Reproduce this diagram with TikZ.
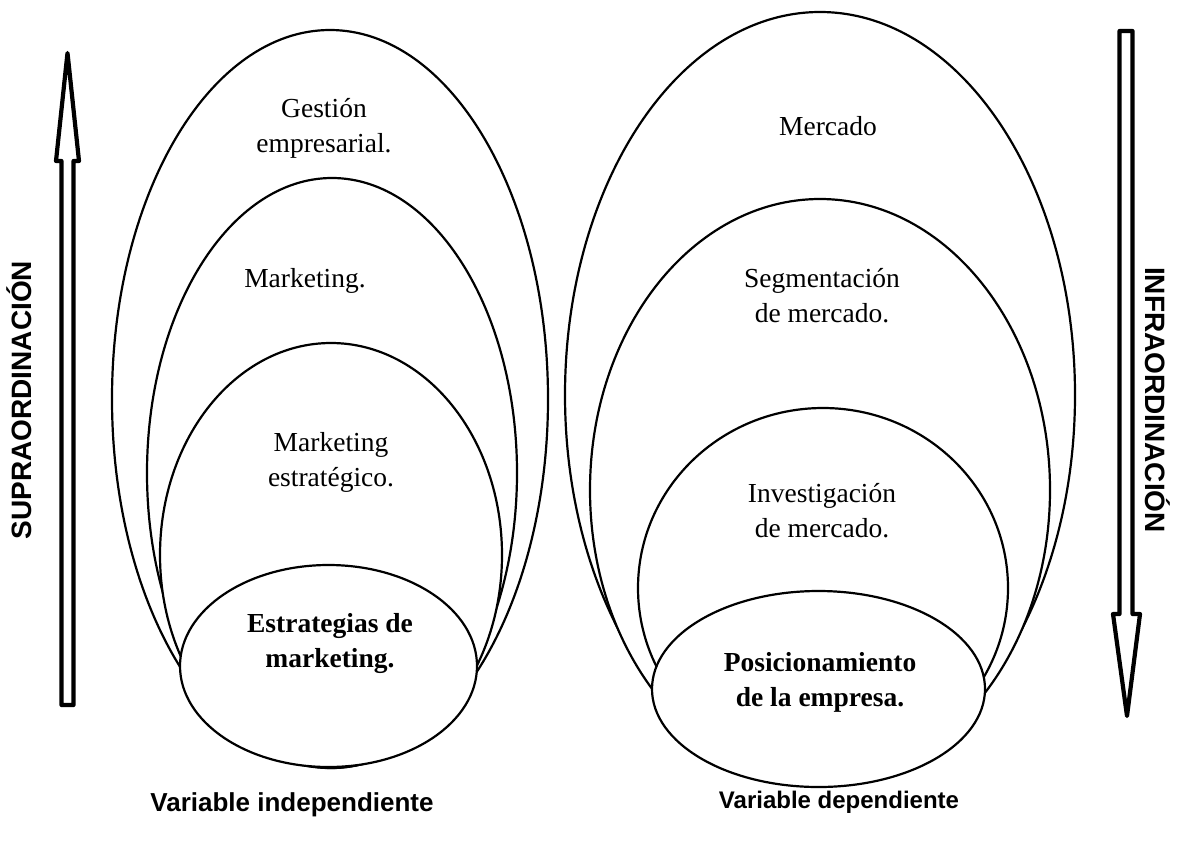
\documentclass[tikz,border=0pt]{standalone}
\usepackage{fontspec}
\setmainfont{Liberation Serif}
\newfontfamily\labelfont{Liberation Sans}
\begin{document}
\begin{tikzpicture}[x=1pt,y=-1pt,
  ring/.style={draw=black,fill=white,line width=2.2pt},
  hollowarrow/.style={draw=black,fill=white,line width=4.2pt,line join=round},
  concept/.style={align=center,inner sep=0pt,font=\fontsize{27.5}{35}\selectfont},
  keyconcept/.style={concept,font=\fontsize{27.5}{35}\selectfont\bfseries},
  caption/.style={inner sep=0pt,font=\labelfont\bfseries\fontsize{24.5}{28}\selectfont},
  sidelabel/.style={inner sep=0pt,font=\labelfont\bfseries\fontsize{28}{30}\selectfont}]
\useasboundingbox (0,0) rectangle (1204,844);

% left nest: independent variable
\draw[ring] (330,399) ellipse [x radius=218,y radius=369];
\draw[ring] (332,473) ellipse [x radius=185,y radius=295];
\draw[ring] (331,555) ellipse [x radius=171,y radius=212];
\draw[ring] (328.5,666) ellipse [x radius=148.5,y radius=101];

% right nest: dependent variable
\draw[ring] (820,395) ellipse [x radius=255,y radius=383];
\draw[ring] (820,490) ellipse [x radius=230,y radius=291];
\draw[ring] (823,588) ellipse [x radius=185,y radius=180];
\draw[ring] (818.5,689) ellipse [x radius=166.5,y radius=98];

% texts inside the ellipses
\node[concept] (gestion) at (324,128) {Gestión\\empresarial.};
\node[concept] (mkt) at (305,281) {Marketing.};
\node[concept] (mktest) at (331,462) {Marketing\\estratégico.};
\node[keyconcept] (estr) at (330,643) {Estrategias de\\marketing.};

\node[concept] (mercado) at (828,126) {Mercado};
\node[concept] (segm) at (822,296) {Segmentación\\de mercado.};
\node[concept] (invest) at (822,511) {Investigación\\de mercado.};
\node[keyconcept] (posic) at (820,682) {Posicionamiento\\de la empresa.};

% captions under each nest
\node[caption,font=\labelfont\bfseries\fontsize{26}{30}\selectfont] (indep) at (292,805) {Variable independiente};
\node[caption,font=\labelfont\bfseries\fontsize{24}{28}\selectfont] (dep) at (839,802) {Variable dependiente};

% upward hollow arrow
\draw[hollowarrow] (67.5,53) -- (79,161) -- (73.5,161) -- (73.5,705)
  -- (61.5,705) -- (61.5,161) -- (56,161) -- cycle;
% downward hollow arrow
\draw[hollowarrow] (1119.5,31) -- (1132.5,31) -- (1132.5,614) -- (1140,614)
  -- (1127,716) -- (1113,614) -- (1119.5,614) -- cycle;

\node[sidelabel,rotate=90] (supra) at (19,400) {SUPRAORDINACIÓN};
\node[sidelabel,rotate=-90] (infra) at (1158,400) {INFRAORDINACIÓN};
\end{tikzpicture}
\end{document}
